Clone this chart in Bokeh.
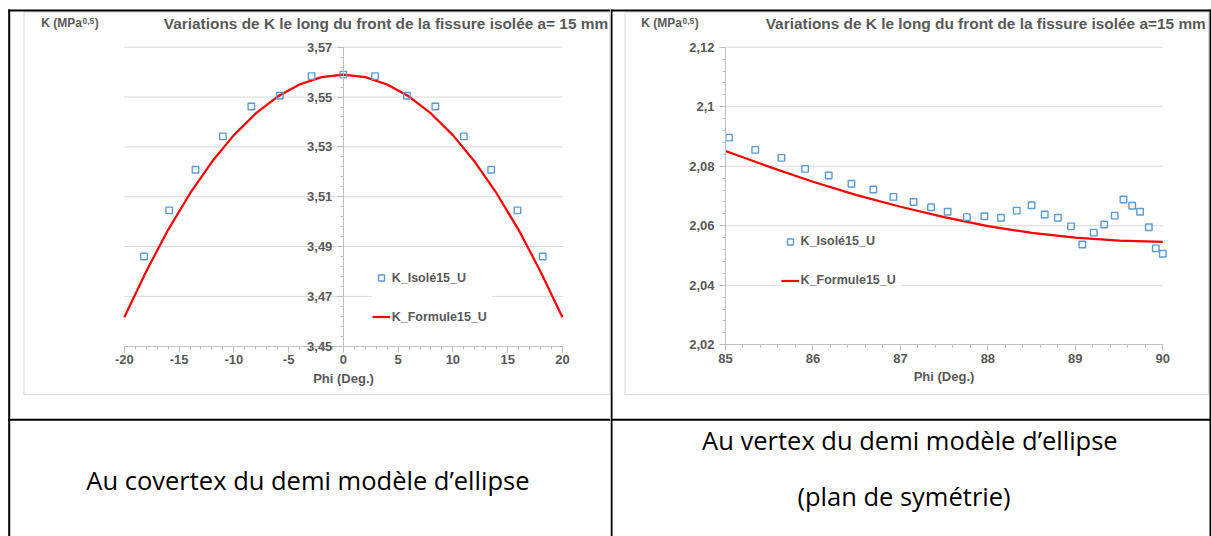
import numpy as np
from bokeh.plotting import figure
from bokeh.models import (Range1d, LinearAxis, FixedTicker, CustomJSTickFormatter,
                          Legend, LegendItem)
from bokeh.layouts import row
from bokeh.embed import file_html
from bokeh.resources import INLINE
from bokeh.core.properties import value

# ---------------- data ----------------
# Left chart : covertex
PHI_ISO_COVERTEX = [-18.2, -15.9, -13.5, -11.0, -8.4, -5.8, -2.9, 0.0,
                    2.9, 5.8, 8.4, 11.0, 13.5, 15.9, 18.2]
K_ISO_COVERTEX = [3.4860, 3.5045, 3.5208, 3.5342, 3.5462, 3.5505, 3.5584, 3.5590,
                  3.5584, 3.5505, 3.5462, 3.5342, 3.5208, 3.5045, 3.4860]
PHI_FORM_COVERTEX = [-20, -18, -16, -14, -12, -10, -8, -6, -4, -2, 0,
                     2, 4, 6, 8, 10, 12, 14, 16, 18, 20]
K_FORM_COVERTEX = [3.4616, 3.4800, 3.4967, 3.5113, 3.5240, 3.5347, 3.5434, 3.5502,
                   3.5550, 3.5580, 3.5590, 3.5580, 3.5550, 3.5502, 3.5434, 3.5347,
                   3.5240, 3.5113, 3.4967, 3.4800, 3.4616]

# Right chart : vertex
PHI_ISO_VERTEX = [85.04, 85.34, 85.64, 85.91, 86.18, 86.44, 86.69, 86.92, 87.15, 87.35,
                  87.54, 87.76, 87.96, 88.15, 88.33, 88.50, 88.65, 88.80, 88.95, 89.08,
                  89.21, 89.33, 89.45, 89.55, 89.65, 89.74, 89.84, 89.92, 90.00]
K_ISO_VERTEX = [2.0896, 2.0855, 2.0828, 2.0791, 2.0769, 2.0741, 2.0722, 2.0697, 2.0680, 2.0662,
                2.0647, 2.0629, 2.0632, 2.0627, 2.0651, 2.0669, 2.0638, 2.0627, 2.0598, 2.0537,
                2.0577, 2.0604, 2.0634, 2.0688, 2.0667, 2.0647, 2.0595, 2.0524, 2.0506]
PHI_FORM_VERTEX = [85.0, 85.5, 86.0, 86.5, 87.0, 87.5, 88.0, 88.5, 89.0, 89.5, 90.0]
K_FORM_VERTEX = [2.0851, 2.0798, 2.0748, 2.0703, 2.0664, 2.0629, 2.0599, 2.0576,
                 2.0560, 2.0550, 2.0546]

X_TICKS_COVERTEX = [-20, -15, -10, -5, 0, 5, 10, 15, 20]
Y_TICKS_COVERTEX = [3.45, 3.47, 3.49, 3.51, 3.53, 3.55, 3.57]
X_TICKS_VERTEX = [85, 86, 87, 88, 89, 90]
Y_TICKS_VERTEX = [2.02, 2.04, 2.06, 2.08, 2.10, 2.12]

TITLE_LEFT = "Variations de K le long du front de la fissure isolée a= 15 mm"
TITLE_RIGHT = "Variations de K le long du front de la fissure isolée a=15 mm"
SERIES_ISO = "K_Isolé15_U"
SERIES_FORM = "K_Formule15_U"
X_LABEL = "Phi (Deg.)"
K_LABEL = ["K (MPa", "0,5", ")"]
CAPTION_LEFT = ["Au covertex du demi modèle d’ellipse"]
CAPTION_RIGHT = ["Au vertex du demi modèle d’ellipse", "(plan de symétrie)"]

# ---------------- style / layout ----------------
H = 536
GRAY = "#595959"
AXIS_GRAY = "#bfbfbf"
GRID_GRAY = "#d9d9d9"
BLUE = "#5b9bd5"
RED = "#ff0000"
FONT = "Liberation Sans"
CAP_FONT = "Open Sans"
CAP_SIZE = 25.5

FMT = "return String(Math.round(tick*100)/100).replace('.', ',');"


def txt(p, x, y, s, size, color=GRAY, bold=True, align="left", font=FONT):
    p.text(x=[x], y=[y], text=[s], x_range_name="px", y_range_name="px",
           text_font=value(font), text_font_size=f"{size}px",
           text_font_style="bold" if bold else "normal", text_color=color,
           text_align=align, text_baseline="middle")


def style_axis(ax, tick_out, minor_out, standoff):
    ax.axis_line_color = AXIS_GRAY
    ax.major_tick_line_color = AXIS_GRAY
    ax.minor_tick_line_color = AXIS_GRAY
    ax.major_tick_in = 0
    ax.minor_tick_in = 0
    ax.major_tick_out = tick_out
    ax.minor_tick_out = minor_out
    ax.major_label_text_font = FONT
    ax.major_label_text_font_style = "bold"
    ax.major_label_text_font_size = "13px"
    ax.major_label_text_color = GRAY
    ax.major_label_standoff = standoff


def panel(W, frame, xlim, ylim, xticks, yticks, xminor, yminor, yaxis_at,
          phi_iso, k_iso, phi_form, k_form, title, legend_loc, deco):
    l, r, t, b = frame
    x0, x1 = xlim
    y0, y1 = ylim
    sx = (r - l) / (x1 - x0)
    sy = (b - t) / (y1 - y0)
    xr = Range1d(x0 - l / sx, x1 + (W - r) / sx)
    yr = Range1d(y0 - (H - b) / sy, y1 + t / sy)
    p = figure(width=W, height=H, x_range=xr, y_range=yr, x_axis_type=None,
               y_axis_type=None, output_backend="svg", toolbar_location=None,
               min_border=0)
    p.outline_line_color = None
    p.background_fill_color = "white"
    p.border_fill_color = "white"
    p.extra_x_ranges = {"px": Range1d(0, W)}
    p.extra_y_ranges = {"px": Range1d(H, 0)}

    # chart box
    bl, br, bt, bb = deco["box"]
    p.quad(left=[bl], right=[br], top=[bt], bottom=[bb], fill_color=None,
           line_color=GRID_GRAY, line_width=1, x_range_name="px", y_range_name="px")

    # gridlines at the tick values
    gv = [v for v in yticks if v != y0]
    p.segment(x0=[x0] * len(gv), x1=[x1] * len(gv), y0=gv, y1=gv,
              line_color=GRID_GRAY, line_width=1)

    # axes
    xax = LinearAxis(fixed_location=y0, bounds=(x0, x1),
                     ticker=FixedTicker(ticks=xticks, minor_ticks=xminor),
                     formatter=CustomJSTickFormatter(code=FMT))
    style_axis(xax, 6, 3, 3)
    xax.axis_label = X_LABEL
    xax.axis_label_text_font = FONT
    xax.axis_label_text_font_style = "bold"
    xax.axis_label_text_font_size = "13px"
    xax.axis_label_text_color = GRAY
    xax.axis_label_standoff = 3
    p.add_layout(xax, "below")
    yax = LinearAxis(fixed_location=yaxis_at, bounds=(y0, y1),
                     ticker=FixedTicker(ticks=yticks, minor_ticks=yminor),
                     formatter=CustomJSTickFormatter(code=FMT))
    style_axis(yax, 6, 3, 5)
    p.add_layout(yax, "left")

    # series
    r_form = p.line(phi_form, k_form, line_color=RED, line_width=2.2)
    r_iso = p.scatter(phi_iso, k_iso, marker="square", size=6.5, line_color=BLUE,
                      fill_color=None, line_width=1.4)

    leg = Legend(items=[LegendItem(label=SERIES_ISO, renderers=[r_iso]),
                        LegendItem(label=SERIES_FORM, renderers=[r_form])],
                 location=legend_loc, orientation="vertical", padding=15, margin=0,
                 spacing=19, glyph_width=18, glyph_height=15, label_height=20,
                 label_width=100, label_standoff=2, border_line_color=None,
                 background_fill_color="white", background_fill_alpha=1.0,
                 label_text_font=FONT, label_text_font_style="bold",
                 label_text_font_size="12.5px", label_text_color=GRAY)
    p.add_layout(leg)

    # texts
    txt(p, deco["title_x"], 23.3, title, 15.4)
    kx = deco["k_x"]
    txt(p, kx, 22.6, K_LABEL[0], 12)
    txt(p, kx + 41.2, 20.6, K_LABEL[1], 8.5)
    txt(p, kx + 53.6, 22.6, K_LABEL[2], 12)

    # table borders
    for (xa, ya, xb, yb) in deco["lines"]:
        p.segment(x0=[xa], y0=[ya], x1=[xb], y1=[yb], line_color="black",
                  line_width=2, x_range_name="px", y_range_name="px")

    for (cx, cy, s) in deco["captions"]:
        txt(p, cx, cy, s, CAP_SIZE, color="black", bold=False, align="center",
            font=CAP_FONT)
    return p


def minor(a, b, step):
    return [round(v, 4) for v in np.arange(a, b + step / 2, step)]


WL, WR = 610, 601
p_left = panel(
    WL, (123.8, 561.9, 46.7, 345.7), (-20, 20), (3.45, 3.57),
    X_TICKS_COVERTEX, Y_TICKS_COVERTEX, minor(-20, 20, 1), minor(3.45, 3.57, 0.004), 0,
    PHI_ISO_COVERTEX, K_ISO_COVERTEX, PHI_FORM_COVERTEX, K_FORM_COVERTEX,
    TITLE_LEFT, (371.7, 209.3),
    dict(box=(23.5, 609.3, 11.7, 394), title_x=163.3, k_x=40.7,
         lines=[(7.5, 10, WL, 10), (8.7, 9, 8.7, H), (7.5, 419.3, WL, 419.3)],
         captions=[(307.4, 479.8, CAPTION_LEFT[0])]))

p_right = panel(
    WR, (115.0, 552.3, 46.7, 344.3), (85, 90), (2.02, 2.12),
    X_TICKS_VERTEX, Y_TICKS_VERTEX, minor(85, 90, 0.2), minor(2.02, 2.12, 0.004), 85,
    PHI_ISO_VERTEX, K_ISO_VERTEX, PHI_FORM_VERTEX, K_FORM_VERTEX,
    TITLE_RIGHT, (170.6, 246),
    dict(box=(14.5, 598, 11.7, 394), title_x=155.2, k_x=30.7,
         lines=[(0, 10, WR, 10), (1, 9, 1, H), (600, 9, 600, H), (0, 419.3, WR, 419.3)],
         captions=[(299.4, 439.9, CAPTION_RIGHT[0]), (293.5, 495.7, CAPTION_RIGHT[1])]))

layout = row(p_left, p_right)
open("out.html", "w").write(file_html(layout, INLINE))
